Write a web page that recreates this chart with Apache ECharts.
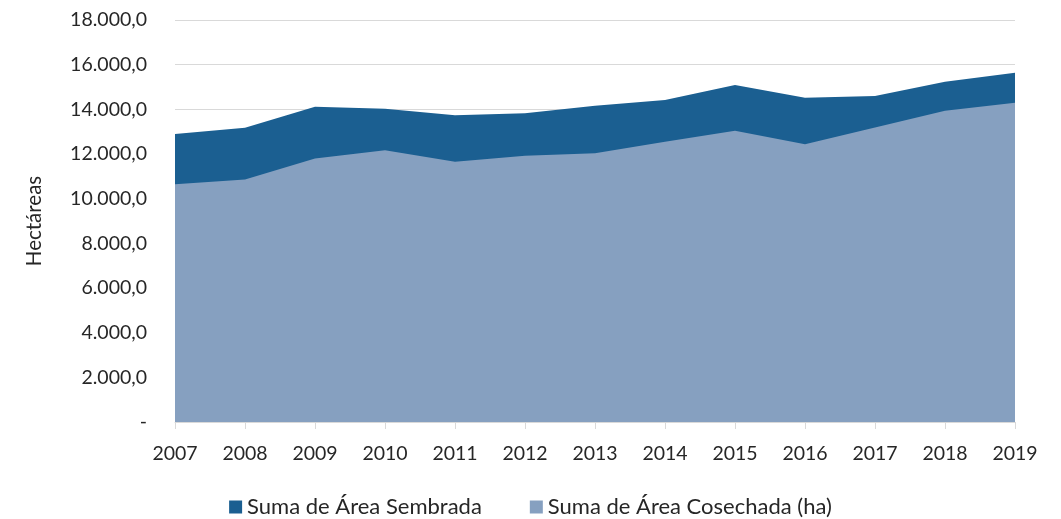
<!DOCTYPE html>
<html>
<head>
<meta charset="utf-8">
<script src="https://cdn.jsdelivr.net/npm/echarts@6/dist/echarts.min.js"></script>
<style>
  html, body { margin: 0; padding: 0; background: #fff; }
  #chart { width: 1061px; height: 519px; }
</style>
</head>
<body>
<div id="chart"></div>
<script>
const years = ['2007', '2008', '2009', '2010', '2011', '2012', '2013', '2014', '2015', '2016', '2017', '2018', '2019']
const sembrada = [12890, 13180, 14120, 14030, 13740, 13820, 14160, 14420, 15090, 14520, 14600, 15240, 15640]
const cosechada = [10640, 10860, 11800, 12170, 11650, 11920, 12030, 12550, 13040, 12440, 13190, 13940, 14300]

const font = 'Lato, "Open Sans", sans-serif'

function fmt(v) {
  if (v === 0) return '-'
  const s = Math.round(v).toString().replace(/\B(?=(\d{3})+(?!\d))/g, '.')
  return s + ',0'
}

const chart = echarts.init(document.getElementById('chart'))

chart.setOption({
  animation: false,
  backgroundColor: '#ffffff',
  grid: { left: 175, right: 46, top: 20, bottom: 97 },
  legend: {
    bottom: 1,
    left: 'center',
    padding: 0,
    itemWidth: 13,
    itemHeight: 13,
    itemGap: 48,
    icon: 'rect',
    textStyle: { fontFamily: font, fontSize: 22, color: '#262626' },
    data: ['Suma de Área Sembrada', 'Suma de Área Cosechada (ha)']
  },
  xAxis: {
    type: 'category',
    data: years,
    boundaryGap: false,
    axisLine: { lineStyle: { color: '#d9d9d9', width: 1 } },
    axisTick: { show: true, length: 7, lineStyle: { color: '#d9d9d9' } },
    axisLabel: { color: '#262626', fontFamily: font, fontSize: 19.5, margin: 22 },
    splitLine: { show: false }
  },
  yAxis: {
    type: 'value',
    min: 0,
    max: 18000,
    interval: 2000,
    name: 'Hectáreas',
    nameLocation: 'middle',
    nameGap: 130,
    nameTextStyle: { color: '#262626', fontFamily: font, fontSize: 20.5 },
    axisLine: { show: false },
    axisTick: { show: false },
    axisLabel: { color: '#262626', fontFamily: font, fontSize: 19.5, margin: 28, formatter: fmt },
    splitLine: { lineStyle: { color: '#d9d9d9', width: 1 } }
  },
  series: [
    {
      name: 'Suma de Área Sembrada',
      type: 'line',
      data: sembrada,
      symbol: 'none',
      lineStyle: { width: 0 },
      itemStyle: { color: '#1b5f91' },
      areaStyle: { color: '#1b5f91', opacity: 1 }
    },
    {
      name: 'Suma de Área Cosechada (ha)',
      type: 'line',
      data: cosechada,
      symbol: 'none',
      lineStyle: { width: 0 },
      itemStyle: { color: '#86a0c0' },
      areaStyle: { color: '#86a0c0', opacity: 1 }
    }
  ]
})
</script>
</body>
</html>
